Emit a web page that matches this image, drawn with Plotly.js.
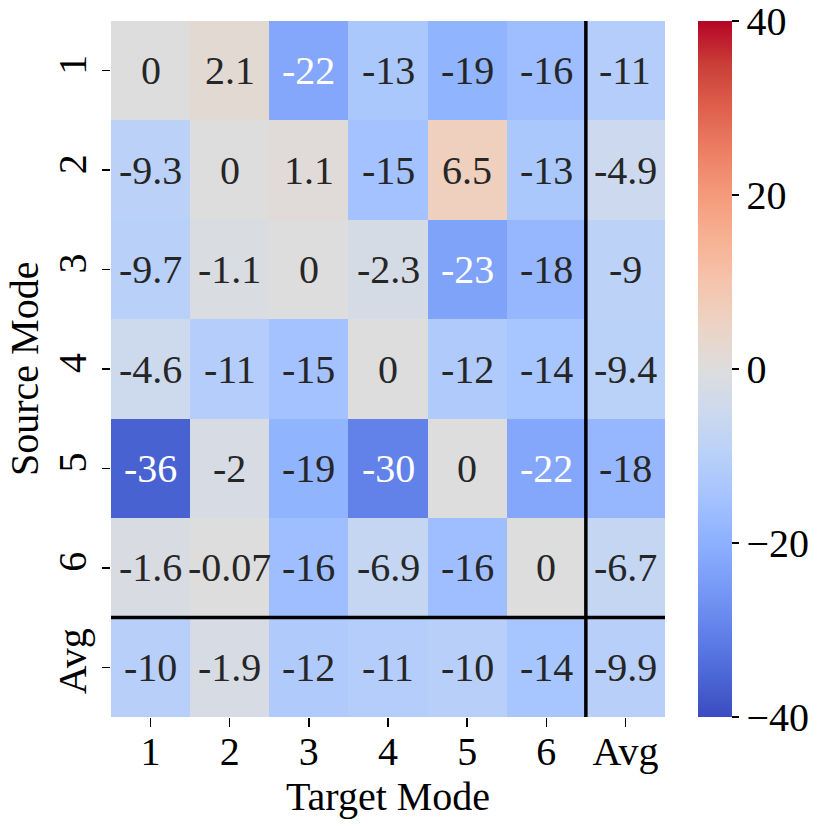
<!DOCTYPE html>
<html>
<head>
<meta charset="utf-8">
<script src="https://cdn.plot.ly/plotly-3.0.1.min.js"></script>
<style>body{margin:0;background:#fff}</style>
</head>
<body>
<div id="heatDiv"></div>
<script>
// transfer gain, source mode (rows) x target mode (cols)
let targetLabels=['1','2','3','4','5','6','Avg']
let sourceLabels=['1','2','3','4','5','6','Avg']
let row1=[0,2.1,-22,-13,-19,-16,-11]
let row2=[-9.3,0,1.1,-15,6.5,-13,-4.9]
let row3=[-9.7,-1.1,0,-2.3,-23,-18,-9]
let row4=[-4.6,-11,-15,0,-12,-14,-9.4]
let row5=[-36,-2,-19,-30,0,-22,-18]
let row6=[-1.6,-0.07,-16,-6.9,-16,0,-6.7]
let rowAvg=[-10,-1.9,-12,-11,-10,-14,-9.9]
let z=[row1,row2,row3,row4,row5,row6,rowAvg]
let cbTicks=[-40,-20,0,20,40]

// matplotlib coolwarm
let cw=[[59,76,192],[77,104,215],[98,130,234],[119,154,247],[141,176,254],[163,194,255],[184,208,249],[204,217,238],
    [221,221,221],[236,211,197],[245,196,172],[247,177,147],[244,154,123],[236,127,99],[222,96,77],[203,62,56],[180,4,38]]
let colorscale=cw.map((c,i)=>[i/(cw.length-1),`rgb(${c[0]},${c[1]},${c[2]})`])

let font='"Liberation Serif", "Times New Roman", serif'
let idx=[...Array(7)].map((_,i)=>i)

let annotations=[]
z.forEach((r,i)=>{
    r.forEach((v,j)=>{
        annotations.push({
            x:j,y:i,xref:'x',yref:'y',
            text:String(v),
            showarrow:false,
            font:{family:font,size:40,color:v<=-20?'#ffffff':'#262626'}
        })
    })
})
// y title as annotation so it can sit further left
annotations.push({
    xref:'paper',yref:'paper',x:0,y:0.5,xanchor:'center',yanchor:'middle',xshift:-87,
    text:'Source Mode',textangle:-90,showarrow:false,
    font:{family:font,size:40,color:'#000'}
})

let trace={
    type:'heatmap',
    z:z,
    x:idx,
    y:idx,
    zmin:-40,
    zmax:40,
    colorscale:colorscale,
    hoverinfo:'skip',
    colorbar:{
        x:1.06,
        xanchor:'left',
        xpad:0,
        ypad:0,
        y:0.5,
        len:1,
        lenmode:'fraction',
        thickness:34,
        outlinewidth:0,
        ticks:'outside',
        ticklen:7,
        tickwidth:1.5,
        tickcolor:'#000',
        tickmode:'array',
        tickvals:cbTicks,
        ticktext:cbTicks.map(t=>t<0?'\u2212'+Math.abs(t):String(t)),
        ticklabeloverflow:'allow',
        tickfont:{family:font,size:40,color:'#000'}
    }
}

let layout={
    width:830,
    height:828,
    margin:{l:111,r:165,t:21,b:111},
    paper_bgcolor:'#fff',
    plot_bgcolor:'#fff',
    font:{family:font,color:'#000'},
    xaxis:{
        tickvals:idx,
        ticktext:targetLabels,
        range:[-0.5,6.5],
        showgrid:false,zeroline:false,showline:false,
        ticks:'outside',ticklen:9,tickwidth:1.5,tickcolor:'#000',
        ticklabelstandoff:-10,
        tickfont:{family:font,size:40},
        title:{text:'Target Mode',font:{family:font,size:40},standoff:4}
    },
    yaxis:{
        tickvals:idx,
        ticktext:sourceLabels,
        range:[6.5,-0.5],
        showgrid:false,zeroline:false,showline:false,
        ticks:'outside',ticklen:8,tickwidth:1.5,tickcolor:'#000',
        tickangle:-90,
        tickfont:{family:font,size:40}
    },
    shapes:[
        {type:'line',xref:'x',yref:'paper',x0:5.5,x1:5.5,y0:0,y1:1,line:{color:'#000',width:3.5}},
        {type:'line',xref:'paper',yref:'y',x0:0,x1:1,y0:5.5,y1:5.5,line:{color:'#000',width:3.5}}
    ],
    annotations:annotations
}

Plotly.newPlot('heatDiv',[trace],layout,{displayModeBar:false,staticPlot:true})
</script>
</body>
</html>
